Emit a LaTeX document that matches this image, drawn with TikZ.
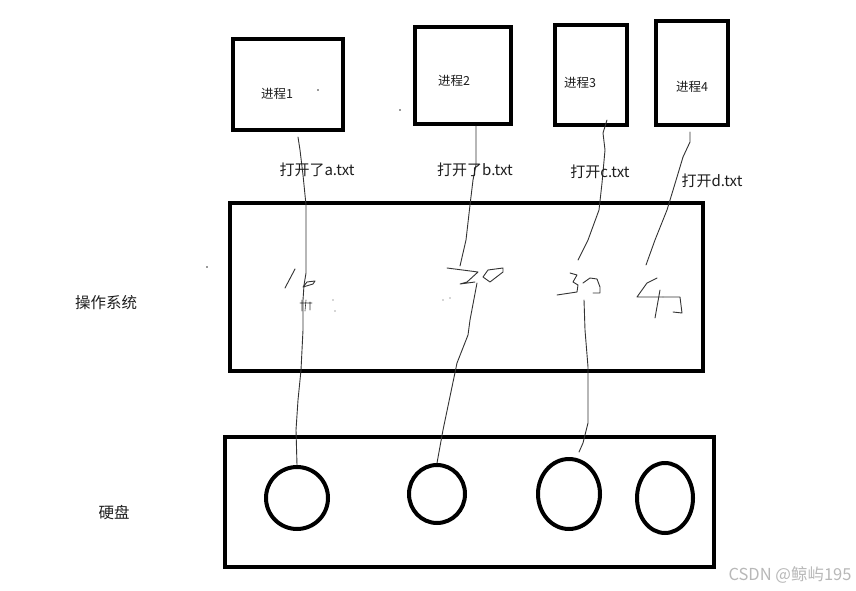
\documentclass[tikz,border=0pt]{standalone}
\usepackage{fontspec}
\setmainfont{Noto Sans CJK SC}
\usetikzlibrary{shapes.geometric}
\definecolor{ink}{HTML}{1E1E1E}
\definecolor{pen}{HTML}{333333}
\definecolor{wm}{HTML}{B8B8B8}
\begin{document}
\begin{tikzpicture}[x=1pt,y=-1pt,
  box/.style={draw=black,line width=4pt,rectangle,inner sep=0pt},
  disc/.style={draw=black,line width=4pt,ellipse,inner sep=0pt},
  hand/.style={draw=pen,line width=0.9pt,line join=round,line cap=round},
  plabel/.style={text=ink,font=\fontsize{12.5}{12.5}\selectfont,inner sep=0pt},
  olabel/.style={text=ink,font=\fontsize{15}{15}\selectfont,inner sep=0pt},
  slabel/.style={text=ink,font=\fontsize{15.5}{15.5}\selectfont,inner sep=0pt}]
\useasboundingbox[fill=white] (0,0) rectangle (856,591);

% process boxes
\node[box,minimum width=110pt,minimum height=91pt] (p1) at (288,84.5) {};
\node[box,minimum width=96pt,minimum height=97pt] (p2) at (463,75.5) {};
\node[box,minimum width=72pt,minimum height=100pt] (p3) at (591,75) {};
\node[box,minimum width=72pt,minimum height=104pt] (p4) at (692,73) {};
\node[plabel] (l1) at (277,94) {进程1};
\node[plabel] (l2) at (454,81) {进程2};
\node[plabel] (l3) at (580,83) {进程3};
\node[plabel] (l4) at (692,87) {进程4};

% operating system and disk
\node[box,minimum width=473pt,minimum height=168pt] (os) at (466.5,287) {};
\node[box,minimum width=489pt,minimum height=130pt] (disk) at (469.5,502) {};
\node[slabel] (osl) at (106,303) {操作系统};
\node[slabel] (dl) at (114,513) {硬盘};

% files on disk
\node[disc,minimum width=62pt,minimum height=62pt] (f1) at (297,498) {};
\node[disc,minimum width=56pt,minimum height=58pt] (f2) at (437,494) {};
\node[disc,minimum width=62pt,minimum height=70pt] (f3) at (569,494) {};
\node[disc,minimum width=56pt,minimum height=70pt] (f4) at (665,498) {};

% hand-drawn connectors
\coordinate (s1) at (298,137);
\draw[hand] (s1) -- (300,150) -- (303,175) -- (306,205) -- (306,273) -- (304,285)
  -- (303,300) -- (303,330) -- (301,370) -- (298,400) -- (296,430) -- (f1.north);
\coordinate (s2) at (476,126);
\draw[hand] (s2) -- (476,165) -- (473,180) -- (470,205) -- (466,240) -- (460,266);
\draw[hand] (477,283) -- (470,320) -- (468,335) -- (457,363) -- (443,430) -- (f2.north);
\coordinate (s3) at (607,120);
\draw[hand] (s3) -- (603,133) -- (605,150) -- (602,183) -- (599,210) -- (588,240) -- (578,260);
\coordinate (e3) at (579,452);
\draw[hand] (584,300) -- (585,330) -- (588,367) -- (588,423) -- (583,443) -- (e3);
\coordinate (s4) at (690,132);
\draw[hand] (s4) -- (690,142) -- (683,157) -- (677,177) -- (667,210) -- (655,240) -- (646,265);

% scribbled numbers
\draw[hand] (285,288) -- (295,269);
\draw[hand] (303,287) -- (307,282) -- (315,281) -- (313,284) -- cycle;
\draw[hand,line width=0.6pt] (302,300) -- (302,311) (306,300) -- (305,311) (300,303) -- (312,303) (310,302) -- (310,310);
\fill[pen!40] (333,300) circle (0.8) (335,311) circle (0.8) (443,300) circle (0.8) (450,298) circle (0.8);
\draw[hand] (447,268) -- (478,272) -- (467,282) -- (460,284) -- (475,282);
\draw[hand] (483,277) -- (488,270) -- (503,268) -- (503,272) -- (490,282) -- cycle;
\draw[hand] (570,273) -- (577,275) -- (573,282) -- (578,285) -- (577,292) -- (557,295);
\draw[hand] (583,283) -- (590,278) -- (597,279) -- (600,287) -- (600,293) -- (593,293);
\draw[hand] (657,278) -- (647,283) -- (637,297) -- (663,297);
\draw[hand] (660,290) -- (655,318);
\draw[hand] (663,297) -- (680,297) -- (682,313) -- (673,312);
\fill[pen] (318,90) circle (0.8) (400,110) circle (0.8) (207,267) circle (0.8);

% connector labels
\node[olabel] (t1) at (317,170) {打开了a.txt};
\node[olabel] (t2) at (475,170) {打开了b.txt};
\node[olabel] (t3) at (600,172) {打开c.txt};
\node[olabel] (t4) at (712,181) {打开d.txt};

% watermark
\node[text=wm,font=\fontsize{16.5}{16.5}\selectfont,inner sep=0pt] (wmk) at (790,575) {CSDN @鲸屿195};
\end{tikzpicture}
\end{document}
